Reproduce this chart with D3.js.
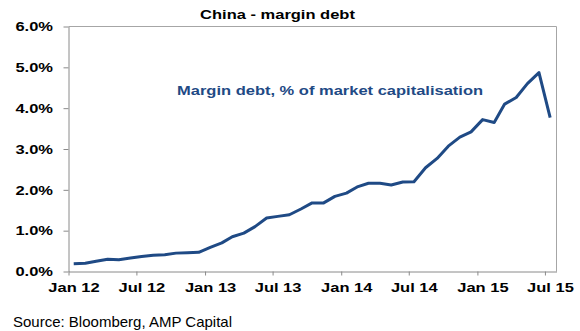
<html>
<head>
<meta charset="utf-8">
<script src="https://d3js.org/d3.v7.min.js"></script>
<style>
body {margin:0; background:#fff;}
text {font-family: "Liberation Sans", Arial, sans-serif;}
</style>
</head>
<body>
<div id="chart"></div>
<script>
// data: margin debt as % of market cap, one value per month
var months = ["2012-01","2012-02","2012-03","2012-04","2012-05","2012-06","2012-07","2012-08","2012-09","2012-10","2012-11","2012-12",
              "2013-01","2013-02","2013-03","2013-04","2013-05","2013-06","2013-07","2013-08","2013-09","2013-10","2013-11","2013-12",
              "2014-01","2014-02","2014-03","2014-04","2014-05","2014-06","2014-07","2014-08","2014-09","2014-10","2014-11","2014-12",
              "2015-01","2015-02","2015-03","2015-04","2015-05","2015-06","2015-07"];
var marginDebt = [0.19,0.20,0.25,0.30,0.29,0.33,0.37,0.40,0.41,0.45,0.46,0.47,
                  0.59,0.70,0.85,0.94,1.10,1.31,1.35,1.39,1.53,1.68,1.68,1.84,
                  1.92,2.08,2.16,2.16,2.12,2.19,2.20,2.54,2.77,3.07,3.29,3.42,
                  3.72,3.65,4.10,4.26,4.60,4.87,3.77];
var yTicks = [0,1,2,3,4,5,6];
var xTickDates = ["2012-01","2012-07","2013-01","2013-07","2014-01","2014-07","2015-01","2015-07"];
var xTickLabels = ["Jan 12","Jul 12","Jan 13","Jul 13","Jan 14","Jul 14","Jan 15","Jul 15"];

var W = 580, H = 331;
// plot box (note: "top" is taken by window.top, so use pTop etc)
var pLeft = 68.5, pRight = 556.5, pTop = 26.5, pBottom = 271.5;
var sx = 1.27;   // the original text is drawn a bit wide
var blue = "#1f4a85", grey = "#8a8a8a";

var parse = d3.timeParse("%Y-%m");
var data = months.map(function(m, i) {
    var d = parse(m);
    return {date: new Date(d.getFullYear(), d.getMonth(), 15), v: marginDebt[i]};
});

var x = d3.scaleTime().domain([new Date(2012,0,1), new Date(2015,7,1)]).range([pLeft, pRight]);
var y = d3.scaleLinear().domain([0,6]).range([pBottom, pTop]);

var svg = d3.select("#chart").append("svg").attr("width", W).attr("height", H);

// frame (top and right)
svg.append("path")
    .attr("d", "M" + pLeft + "," + pTop + "H" + pRight + "V" + pBottom)
    .attr("fill", "none").attr("stroke", "#a6a6a6").attr("stroke-width", 1);

var yAxis = svg.append("g")
    .attr("transform", "translate(" + pLeft + ",0)")
    .call(d3.axisLeft(y).tickValues(yTicks).tickSize(5).tickSizeOuter(0)
        .tickFormat(function(d){ return d.toFixed(1) + "%"; }));
yAxis.select(".domain").attr("stroke", grey);
yAxis.selectAll(".tick line").attr("stroke", grey);
yAxis.selectAll("text")
    .attr("x", -15.5 / sx).attr("dy", "0.32em")
    .attr("transform", "scale(" + sx + ",1)")
    .style("font-size", "13px").style("font-weight", "bold").attr("fill", "#000");

var xAxis = svg.append("g")
    .attr("transform", "translate(0," + pBottom + ")")
    .call(d3.axisBottom(x).tickValues(xTickDates.map(parse)).tickSize(4).tickSizeOuter(0)
        .tickFormat(function(d, i){ return xTickLabels[i]; }));
xAxis.select(".domain").attr("stroke", grey);
xAxis.selectAll(".tick line").attr("stroke", grey);
xAxis.selectAll("text")
    .attr("x", 5 / sx).attr("y", 21).attr("dy", 0)
    .attr("transform", "scale(" + sx + ",1)")
    .style("font-size", "13px").style("font-weight", "bold").attr("fill", "#000");

var line = d3.line()
    .x(function(d){ return x(d.date); })
    .y(function(d){ return y(d.v); });

svg.append("path")
    .datum(data)
    .attr("d", line)
    .attr("fill", "none")
    .attr("stroke", blue)
    .attr("stroke-width", 3)
    .attr("stroke-linejoin", "round");

svg.append("text")
    .attr("transform", "translate(277.5,18.5) scale(" + sx + ",1)")
    .attr("text-anchor", "middle")
    .style("font-size", "13px").style("font-weight", "bold")
    .text("China - margin debt");

svg.append("text")
    .attr("transform", "translate(177,95) scale(" + sx + ",1)")
    .style("font-size", "13px").style("font-weight", "bold")
    .attr("fill", blue)
    .text("Margin debt, % of market capitalisation");

svg.append("text")
    .attr("x", 13).attr("y", 326.5)
    .style("font-size", "15px")
    .text("Source: Bloomberg, AMP Capital");
</script>
</body>
</html>
